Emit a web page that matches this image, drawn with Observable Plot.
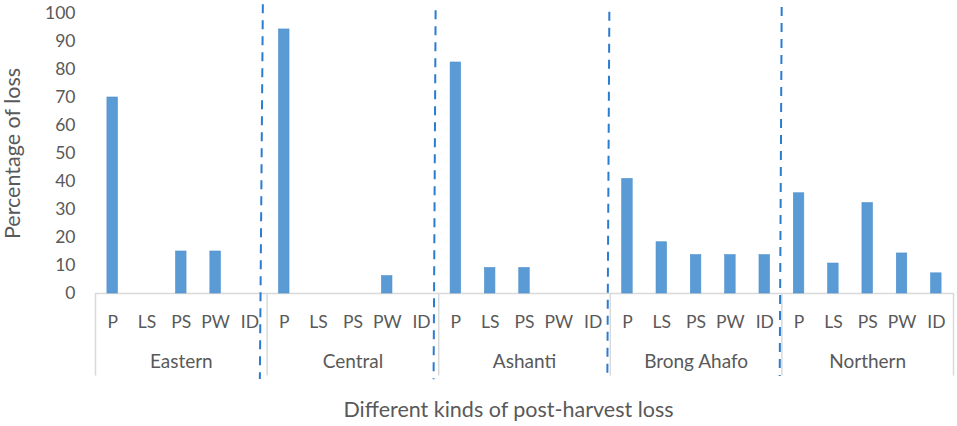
<!DOCTYPE html>
<html>
<head>
<meta charset="utf-8">
<script src="https://cdn.jsdelivr.net/npm/d3@7"></script>
<script src="https://cdn.jsdelivr.net/npm/@observablehq/plot@0.6"></script>
<style>
  html, body { margin: 0; padding: 0; background: #fff; }
</style>
</head>
<body>
<div id="chart"></div>
<script>
const regions = ["Eastern", "Central", "Ashanti", "Brong Ahafo", "Northern"];
const kinds = ["P", "LS", "PS", "PW", "ID"];
const eastern = [70, 0, 15, 15, 0];
const central = [94.3, 0, 0, 6.2, 0];
const ashanti = [82.5, 9.1, 9.1, 0, 0];
const brongAhafo = [40.9, 18.3, 13.7, 13.7, 13.7];
const northern = [35.8, 10.7, 32.3, 14.3, 7.2];
const yTicks = [0, 10, 20, 30, 40, 50, 60, 70, 80, 90, 100];
// hand-drawn dashed separators (slot units, percentage units)
const dividerTopX = [4.876, 9.91, 14.972, 19.994];
const dividerBottomX = [4.789, 9.851, 14.914, 19.936];
const dividerTopY = [103.3, 101.2, 100.6, 102.3];
const dividerBottomY = [-30.5, -30.6, -30.5, -29.5];

const series = [eastern, central, ashanti, brongAhafo, northern];
const rows = [];
regions.forEach((r, ri) => kinds.forEach((k, ki) => {
  rows.push({region: r, kind: k, i: ri * 5 + ki, value: series[ri][ki]});
}));
const groups = regions.map((r, ri) => ({region: r, start: ri * 5, mid: ri * 5 + 2.5}));
const borders = d3.range(regions.length + 1).map(i => i * kinds.length);
const dividers = dividerTopX.map((x, i) => ({x1: x, y1: dividerTopY[i], x2: dividerBottomX[i], y2: dividerBottomY[i]}));

const textColor = "#595959";
const chart = Plot.plot({
  width: 957,
  height: 426,
  marginTop: 13,
  marginBottom: 133,
  marginLeft: 95,
  marginRight: 4,
  style: {fontFamily: "Lato, 'Open Sans', sans-serif", color: textColor, background: "#fff"},
  x: {type: "linear", domain: [0, regions.length * kinds.length], axis: null},
  y: {domain: [0, 100], axis: null},
  marks: [
    Plot.axisY({ticks: yTicks, tickSize: 0, tickPadding: 20, fontSize: 17.5, label: null, fill: textColor}),
    Plot.ruleY([0], {x1: 0, x2: regions.length * kinds.length, stroke: "#d9d9d9", strokeWidth: 1.5}),
    Plot.ruleX(borders, {x: d => d, y1: 0, y2: -29.5, stroke: "#d9d9d9", strokeWidth: 1.5}),
    Plot.rectY(rows, {x1: d => d.i + 0.347, x2: d => d.i + 0.653, y1: 0, y2: "value", fill: "#5b9bd5", stroke: "#4e8fcc", strokeWidth: 0.6}),
    Plot.text(rows, {x: d => d.i + 0.5, y: 0, text: "kind", dy: 28.5, fontSize: 17.5, fill: textColor}),
    Plot.text(groups, {x: "mid", y: 0, text: "region", dy: 68, fontSize: 19, fill: textColor}),
    Plot.text(["Different kinds of post-harvest loss"], {x: regions.length * kinds.length / 2, y: 0, text: d => d, dx: -16, dy: 117, fontSize: 21.5, fill: textColor}),
    Plot.text(["Percentage of loss"], {frameAnchor: "left", textAnchor: "middle", text: d => d, rotate: -90, dx: -82, fontSize: 21.5, fill: textColor}),
    Plot.link(dividers, {x1: "x1", y1: "y1", x2: "x2", y2: "y2", stroke: "#2b7bd1", strokeWidth: 2, strokeDasharray: "9,7"})
  ]
});
document.getElementById("chart").appendChild(chart);
</script>
</body>
</html>
